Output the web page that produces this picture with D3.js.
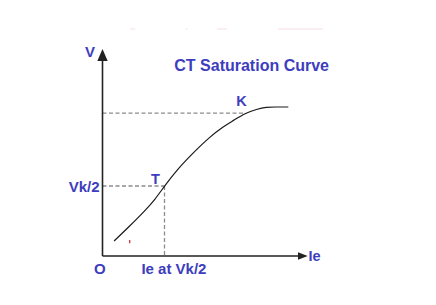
<!DOCTYPE html>
<html lang="en">
<head>
  <meta charset="UTF-8">
  <title>CT Saturation Curve</title>
  <script src="https://d3js.org/d3.v7.min.js"></script>
  <style>
    body { margin: 0; background: #fff; }
    svg { display: block; }
    .lbl {
      font-family: Arial, "Liberation Sans", sans-serif;
      font-weight: bold;
      fill: #3d3dbd;
    }
    .axis-line { stroke: #222; stroke-width: 1.6px; }
    .guide { stroke: #8c8c8c; stroke-width: 1.3px; stroke-dasharray: 4,2.5; fill: none; }
    .curve { stroke: #1a1a1a; stroke-width: 1.2px; fill: none; }
  </style>
</head>
<body>
<script>
  // excitation current (Ie) and secondary voltage (V)
  var ie = [0.58, 1.28, 2.13, 2.63, 3.1, 3.71, 4.54, 5.38, 6.04, 6.54, 7.13, 7.71, 8.21, 8.6, 9.29];
  var volts = [0.75, 1.42, 2.27, 2.83, 3.5, 4.3, 5.17, 5.97, 6.47, 6.77, 7.14, 7.34, 7.45, 7.45, 7.45];

  // knee point K and the half-knee point T
  var kneePoint = [7.13, 7.14];
  var halfKnee = [3.1, 3.5];

  var width = 436, height = 305;

  var svg = d3.select("body").append("svg")
    .attr("width", width)
    .attr("height", height);

  // origin sits at (102.5, 256)
  var x = d3.scaleLinear().domain([0, 10]).range([102.5, 302.5]);
  var y = d3.scaleLinear().domain([0, 10]).range([256, 56]);

  // faint leftovers of the source image
  var ghostX = [[1.38, 1.63], [4.15, 4.25], [5.73, 6.23], [8.78, 11.03]];
  svg.selectAll("line.ghost")
    .data(ghostX)
    .enter().append("line")
    .attr("class", "ghost")
    .attr("x1", function (d) { return x(d[0]); })
    .attr("x2", function (d) { return x(d[1]); })
    .attr("y1", y(11.35))
    .attr("y2", y(11.35))
    .attr("stroke", "#e6a0b0")
    .attr("stroke-opacity", 0.35)
    .attr("stroke-width", 1);

  // dashed guides
  svg.append("line").attr("class", "guide")
    .attr("x1", x(0)).attr("x2", x(kneePoint[0]))
    .attr("y1", y(kneePoint[1])).attr("y2", y(kneePoint[1]));
  svg.append("line").attr("class", "guide")
    .attr("x1", x(0)).attr("x2", x(halfKnee[0]))
    .attr("y1", y(halfKnee[1])).attr("y2", y(halfKnee[1]));
  svg.append("line").attr("class", "guide")
    .attr("x1", x(halfKnee[0])).attr("x2", x(halfKnee[0]))
    .attr("y1", y(halfKnee[1])).attr("y2", y(0));

  // the saturation curve
  var line = d3.line()
    .x(function (d) { return x(d[0]); })
    .y(function (d) { return y(d[1]); })
    .curve(d3.curveBasis);
  svg.append("path")
    .attr("class", "curve")
    .attr("d", line(d3.zip(ie, volts)));

  // small red tick left in the source picture
  svg.append("line")
    .attr("x1", x(1.36)).attr("x2", x(1.36))
    .attr("y1", y(0.64)).attr("y2", y(0.8))
    .attr("stroke", "#c0282a").attr("stroke-width", 1.2);

  // axes with arrow heads
  svg.append("line").attr("class", "axis-line")
    .attr("x1", x(0)).attr("x2", x(0))
    .attr("y1", y(0)).attr("y2", y(9.75));
  svg.append("line").attr("class", "axis-line")
    .attr("x1", x(0)).attr("x2", x(9.8))
    .attr("y1", y(0)).attr("y2", y(0));

  svg.append("path")
    .attr("fill", "#222")
    .attr("d", "M" + x(0) + "," + (y(10) - 7) +
      "L" + (x(0) + 5.2) + "," + (y(10) + 5) +
      "L" + (x(0) - 5.2) + "," + (y(10) + 5) + "Z");
  svg.append("path")
    .attr("fill", "#222")
    .attr("d", "M" + (x(10) + 5.2) + "," + y(0) +
      "L" + (x(10) - 4.5) + "," + (y(0) - 3.8) +
      "L" + (x(10) - 4.5) + "," + (y(0) + 3.8) + "Z");

  // labels
  function label(txt, px, py, anchor, size) {
    svg.append("text")
      .attr("class", "lbl")
      .attr("x", px)
      .attr("y", py)
      .attr("text-anchor", anchor)
      .style("font-size", size + "px")
      .text(txt);
  }

  label("CT Saturation Curve", 174.3, 71, "start", 16);
  label("V", x(0) - 7.5, 57, "end", 15);
  label("K", x(kneePoint[0]) - 3.7, y(kneePoint[1]) - 7.3, "middle", 14.5);
  label("T", x(halfKnee[0]) - 9, y(halfKnee[1]) - 2, "middle", 14.5);
  label("Vk/2", x(0) - 3, y(halfKnee[1]) + 5.7, "end", 15);
  label("O", x(0) - 2.7, y(0) + 18.3, "middle", 15);
  label("Ie at Vk/2", x(halfKnee[0]) + 9.4, y(0) + 18.3, "middle", 15);
  label("Ie", x(10) + 6, y(0) + 4.7, "start", 14.5);
</script>
</body>
</html>
